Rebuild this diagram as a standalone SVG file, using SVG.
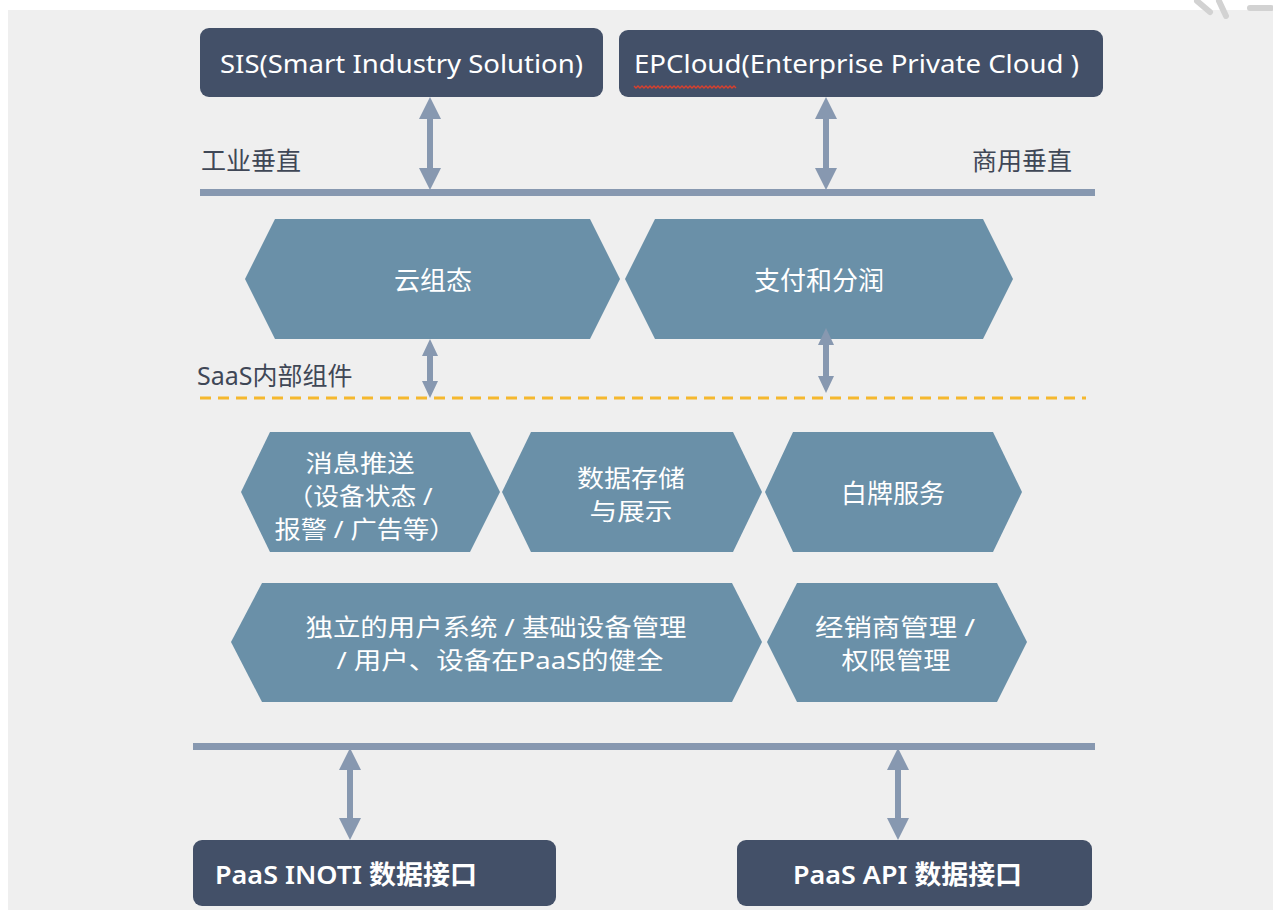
<svg xmlns="http://www.w3.org/2000/svg" width="1273" height="910" viewBox="0 0 1273 910">
<style>
.box{fill:#435068}
.hex{fill:#6a90a8}
.bar{fill:#8798b0}
.arr{fill:#8798b0}
.t{font-family:"Noto Sans","Noto Sans CJK SC",sans-serif;fill:#ffffff;font-size:26px}
.m{font-size:24px}
.tc{text-anchor:middle}
.lbl{font-family:"Noto Sans","Noto Sans CJK SC",sans-serif;fill:#3f4756;font-size:25px}
</style>
<rect x="0" y="0" width="1273" height="910" fill="#ffffff"/>
<rect x="8" y="10" width="1265" height="900" fill="#efefef"/>
<g id="deco" stroke="#d2d2d2" stroke-width="6" fill="none" stroke-linecap="round">
<line x1="1197" y1="1" x2="1210" y2="12"/>
<line x1="1219" y1="1" x2="1226" y2="16"/>
<line x1="1250" y1="8" x2="1271" y2="8"/>
</g>

<g id="n-sis">
<rect class="box" x="200" y="28" width="403" height="69" rx="9"/>
<text class="t" x="220" y="73" textLength="363" lengthAdjust="spacingAndGlyphs">SIS(Smart Industry Solution)</text>
</g>
<g id="n-epcloud">
<rect class="box" x="619" y="30" width="484" height="67" rx="9"/>
<text class="t" x="634" y="73" textLength="445" lengthAdjust="spacingAndGlyphs">EPCloud(Enterprise Private Cloud )</text>
<path d="M634 86 l2 2 l2 -2 l2 2 l2 -2 l2 2 l2 -2 l2 2 l2 -2 l2 2 l2 -2 l2 2 l2 -2 l2 2 l2 -2 l2 2 l2 -2 l2 2 l2 -2 l2 2 l2 -2 l2 2 l2 -2 l2 2 l2 -2 l2 2 l2 -2 l2 2 l2 -2 l2 2 l2 -2 l2 2 l2 -2 l2 2 l2 -2 l2 2 l2 -2 l2 2 l2 -2 l2 2 l2 -2 l2 2 l2 -2 l2 2 l2 -2 l2 2 l2 -2 l2 2 l2 -2 l2 2 l2 -2 l2 2" fill="none" stroke="#d8402e" stroke-width="1.4"/>
</g>

<g id="labels">
<text class="lbl" x="201" y="170">工业垂直</text>
<text class="lbl" x="1072" y="170" text-anchor="end">商用垂直</text>
<text class="lbl" x="197" y="385" font-size="24">SaaS内部组件</text>
</g>

<g id="n-yunzutai">
<polygon class="hex" points="245,279 275,219 590,219 620,279 590,339 275,339"/>
<text class="t tc" x="433" y="290">云组态</text>
</g>
<g id="n-zhifu">
<polygon class="hex" points="625,279 655,219 983,219 1013,279 983,339 655,339"/>
<text class="t tc" x="819" y="290">支付和分润</text>
</g>

<g id="n-xiaoxi">
<polygon class="hex" points="241,492 270,432 470,432 500,492 470,552 270,552"/>
<text class="t m tc" x="360" y="472" textLength="109" lengthAdjust="spacingAndGlyphs">消息推送</text>
<text class="t m tc" x="360" y="505" textLength="145" lengthAdjust="spacingAndGlyphs">（设备状态 /</text>
<text class="t m tc" x="365" y="538" textLength="181" lengthAdjust="spacingAndGlyphs">报警 / 广告等）</text>
</g>
<g id="n-shuju">
<polygon class="hex" points="502,492 531,432 733,432 762,492 733,552 531,552"/>
<text class="t m tc" x="631" y="487" textLength="108" lengthAdjust="spacingAndGlyphs">数据存储</text>
<text class="t m tc" x="631" y="520" textLength="83" lengthAdjust="spacingAndGlyphs">与展示</text>
</g>
<g id="n-baipai">
<polygon class="hex" points="765,492 793,432 993,432 1022,492 993,552 793,552"/>
<text class="t tc" x="893" y="503">白牌服务</text>
</g>
<g id="n-yonghu">
<polygon class="hex" points="231,642 262,583 732,583 762,642 732,702 262,702"/>
<text class="t m tc" x="496" y="636" textLength="381" lengthAdjust="spacingAndGlyphs">独立的用户系统 / 基础设备管理</text>
<text class="t m tc" x="500" y="669" textLength="327" lengthAdjust="spacingAndGlyphs">/ 用户、设备在PaaS的健全</text>
</g>
<g id="n-jingxiao">
<polygon class="hex" points="767,642 797,583 997,583 1027,642 997,702 797,702"/>
<text class="t m tc" x="895" y="636" textLength="160" lengthAdjust="spacingAndGlyphs">经销商管理 /</text>
<text class="t m tc" x="896" y="669" textLength="109" lengthAdjust="spacingAndGlyphs">权限管理</text>
</g>

<g id="n-inoti">
<rect class="box" x="193" y="840" width="363" height="66" rx="9"/>
<text class="t" x="215" y="884" font-weight="600" textLength="262" lengthAdjust="spacingAndGlyphs">PaaS INOTI 数据接口</text>
</g>
<g id="n-api">
<rect class="box" x="737" y="840" width="355" height="66" rx="9"/>
<text class="t" x="793" y="884" font-weight="600" textLength="229" lengthAdjust="spacingAndGlyphs">PaaS API 数据接口</text>
</g>

<g id="connectors">
<rect class="bar" x="200" y="189" width="895" height="7"/>
<rect class="bar" x="193" y="743" width="902" height="7"/>
<line x1="200" y1="398" x2="1086" y2="398" stroke="#f5b82e" stroke-width="3" stroke-dasharray="11,7"/>
<polygon class="arr" points="430,97 441,119 433,119 433,168 441,168 430,190 419,168 427,168 427,119 419,119"/>
<polygon class="arr" points="826,97 837,119 829,119 829,168 837,168 826,190 815,168 823,168 823,119 815,119"/>
<polygon class="arr" points="430,339 438,356 433,356 433,381 438,381 430,398 422,381 427,381 427,356 422,356"/>
<polygon class="arr" points="826,328 834,345 829,345 829,376 834,376 826,393 818,376 823,376 823,345 818,345"/>
<polygon class="arr" points="350,748 361,770 353,770 353,818 361,818 350,840 339,818 347,818 347,770 339,770"/>
<polygon class="arr" points="898,748 909,770 901,770 901,818 909,818 898,840 887,818 895,818 895,770 887,770"/>
</g>
</svg>
